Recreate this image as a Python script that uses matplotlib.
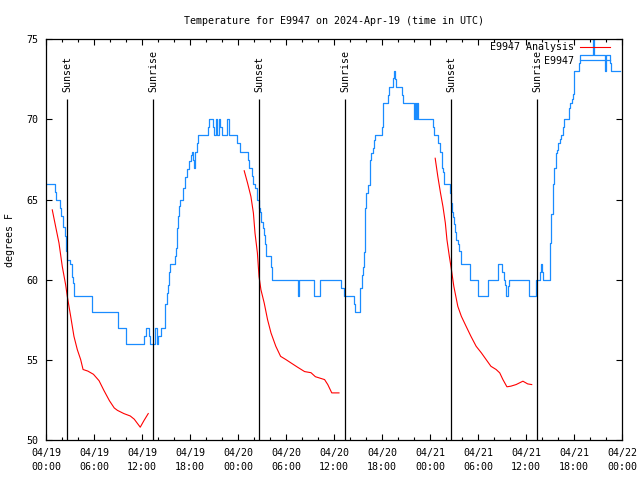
import numpy as np
import pandas as pd
import matplotlib
matplotlib.use("Agg")
import matplotlib.pyplot as plt
import matplotlib.dates as mdates

# station observations (hours since 2024-04-19 00:00 UTC, deg F), drawn as steps
obs_hours = [0.13, 1.04, 1.25, 1.71, 1.88, 2.13, 2.29, 2.42, 2.50, 2.63, 2.96, 3.21, 3.33, 3.46, 5.75, 8.96, 10.0,
             12.21, 12.46, 12.88, 12.96, 13.58, 13.79, 14.0, 14.29, 14.83, 15.04, 15.21, 15.38, 15.46, 16.13, 16.21,
             16.29, 16.38, 16.5, 16.63, 16.75, 17.13, 17.29, 17.54, 17.79, 18.04, 18.21, 18.38, 18.46, 18.58, 18.79,
             19.0, 20.17, 20.29, 20.79, 20.96, 21.21, 21.38, 21.54, 21.71, 22.0, 22.63, 22.88, 23.88,
             24.21, 25.17, 25.29, 25.71, 25.88, 26.09, 26.3, 26.63, 26.7, 26.88, 27.05, 27.25, 27.38, 27.5, 28.1,
             28.2, 31.42, 31.63, 33.5, 34.21, 36.88, 37.21, 38.5, 38.63, 39.25, 39.46, 39.6, 39.71, 39.8, 39.88,
             40.0, 40.17, 40.42, 40.54, 40.63, 40.8, 41.0, 41.13, 41.96, 42.08, 42.71, 42.88, 43.33, 43.46, 43.6,
             43.75, 44.46, 44.58, 46.0, 46.13, 46.25, 46.38, 46.54,
             48.33, 48.54, 49.04, 49.17, 49.5, 49.67, 49.79, 50.54, 50.63, 50.75, 50.88, 51.0, 51.13, 51.25, 51.46,
             51.67, 51.83, 53.04, 54.04, 55.29, 56.54, 56.96, 57.21, 57.38, 57.54, 57.71, 57.88, 60.33, 61.29,
             61.71, 61.88, 62.0, 62.13, 62.96, 63.04, 63.17, 63.33, 63.46, 63.75, 63.88, 64.04, 64.21, 64.38,
             64.63, 64.79, 65.38, 65.54, 65.75, 65.88, 66.04, 66.58, 66.79, 68.33, 68.46, 69.83, 70.0, 70.5,
             70.63, 71.8]
obs_temps = [66, 65.5, 65, 64.5, 64, 63.3, 62.7, 62.2, 61.8, 61.25, 61, 60.2, 59.8, 59, 58, 57, 56,
             56.5, 57, 56.5, 56, 57, 56, 56.5, 57, 58.5, 59.2, 59.7, 60.5, 61, 61.5, 62, 62.8, 63.2, 64, 64.6, 65,
             65.7, 66.4, 66.9, 67.4, 67.8, 68, 67.5, 67, 68, 68.5, 69, 69.5, 70, 69.5, 69, 70, 69, 70, 69.5, 69,
             70, 69, 68.5,
             68, 67.5, 67, 66.5, 66, 65.7, 65, 64.5, 64.2, 63.6, 63.2, 62.8, 62.2, 61.5, 60.8, 60, 59, 60, 59, 60,
             59.5, 59, 58.5, 58, 59.5, 60.3, 60.8, 61.7, 63.2, 64.5, 65.4, 65.9, 66.4, 67.5, 67.9, 68.2, 68.7, 69,
             69.5, 71, 71.5, 72, 72.6, 73, 72.5, 72, 71.5, 71, 70, 71, 70, 71, 70,
             69.5, 69, 68.5, 68, 67, 66.7, 66, 65.4, 64.8, 64.2, 63.9, 63.5, 63.0, 62.5, 62.2, 61.8, 61, 60, 59,
             60, 61, 60.5, 60, 59.7, 59, 59.6, 60, 59, 60, 60.5, 61, 60.5, 60, 60.8, 62.3, 64.1, 66, 67, 67.9,
             68.1, 68.5, 68.8, 69, 69.5, 70, 70.7, 71, 71.3, 71.6, 73, 73.5, 74, 75, 74, 73, 74, 73.5, 73, 73]

# analysis, one run per night
ana1_hours = [0.75, 1.17, 1.59, 2.0, 2.42, 2.63, 3.05, 3.46, 3.88, 4.3, 4.6, 5.2, 5.9, 6.6, 7.2, 7.9, 8.5,
              8.9, 9.7, 10.5, 11.0, 11.6, 11.75, 12.2, 12.75]
ana1_temps = [64.36, 63.32, 62.29, 60.83, 59.69, 58.96, 57.72, 56.47, 55.64, 55.02, 54.4, 54.3, 54.1, 53.7,
              53.1, 52.45, 52.0, 51.85, 51.65, 51.5, 51.3, 50.9, 50.8, 51.2, 51.65]
ana2_hours = [24.75, 25.17, 25.59, 25.9, 26.1, 26.4, 26.6, 26.84, 27.25, 27.67, 28.1, 28.7, 29.3, 29.96,
              30.6, 31.4, 32.3, 33.1, 33.65, 34.8, 35.2, 35.7, 36.6]
ana2_temps = [66.8, 66.03, 65.19, 64.16, 62.91, 61.67, 60.21, 59.38, 58.55, 57.51, 56.68, 55.85, 55.22,
              55.02, 54.81, 54.55, 54.27, 54.2, 53.95, 53.77, 53.46, 52.94, 52.94]
ana3_hours = [48.63, 48.96, 49.3, 49.6, 49.9, 50.1, 50.4, 50.6, 50.96, 51.46, 51.9, 52.5, 53.1, 53.75, 54.4,
              55.0, 55.6, 56.25, 56.7, 57.1, 57.6, 58.1, 58.75, 59.6, 60.2, 60.7]
ana3_temps = [67.58, 66.44, 65.4, 64.57, 63.54, 62.5, 61.46, 60.83, 59.59, 58.34, 57.72, 57.09, 56.47, 55.85,
              55.44, 55.02, 54.6, 54.4, 54.19, 53.77, 53.32, 53.36, 53.46, 53.67, 53.5, 53.46]

sun_hours = [2.63, 13.38, 26.63, 37.38, 50.63, 61.35]
sun_labels = ["Sunset", "Sunrise", "Sunset", "Sunrise", "Sunset", "Sunrise"]

start = pd.Timestamp("2024-04-19 00:00")


def to_time(hours):
    return start + pd.to_timedelta(np.asarray(hours), unit="h")


plt.rcParams["font.family"] = "DejaVu Sans Mono"
plt.rcParams["font.size"] = 7.2

fig = plt.figure(figsize=(6.4, 4.8), dpi=100)
ax = fig.add_axes([0.0723, 0.0833, 0.8997, 0.8348])

blue = "#1a8cff"
red = "#ff0000"

first = True
for h, t in [(ana1_hours, ana1_temps), (ana2_hours, ana2_temps), (ana3_hours, ana3_temps)]:
    ax.plot(to_time(h), t, color=red, lw=0.8, label="E9947 Analysis" if first else None)
    first = False
ax.plot(to_time(obs_hours), obs_temps, color=blue, lw=0.9, drawstyle="steps-post", label="E9947")

for h, name in zip(sun_hours, sun_labels):
    x = to_time([h])[0]
    ax.vlines(x, 50, 71.25, color="black", lw=0.9)
    ax.text(x, 71.7, name, rotation=90, ha="center", va="bottom")

ax.set_xlim(start, start + pd.Timedelta(hours=72))
ax.set_ylim(50, 75)
ax.set_yticks([50, 55, 60, 65, 70, 75])
ax.xaxis.set_major_locator(mdates.HourLocator(byhour=[0, 6, 12, 18]))
ax.xaxis.set_minor_locator(mdates.HourLocator(byhour=range(0, 24, 2)))
ax.xaxis.set_major_formatter(mdates.DateFormatter("%m/%d\n%H:%M"))
ax.tick_params(which="both", direction="in", top=True, right=True, width=0.8)
ax.tick_params(which="major", length=4, pad=6)
ax.tick_params(which="minor", length=2)
for lbl in ax.get_xticklabels():
    lbl.set_linespacing(1.45)
for s in ax.spines.values():
    s.set_linewidth(0.9)

ax.set_ylabel("degrees F", labelpad=8)
ax.set_title("Temperature for E9947 on 2024-Apr-19 (time in UTC)", fontsize=7.2, pad=11)

ax.legend(loc="upper right", bbox_to_anchor=(0.953, 0.912), bbox_transform=fig.transFigure,
          frameon=False, markerfirst=False, handlelength=3.0, handletextpad=0.6,
          labelspacing=0.35, borderpad=0, borderaxespad=0)

fig.savefig("out.png", dpi=100)
